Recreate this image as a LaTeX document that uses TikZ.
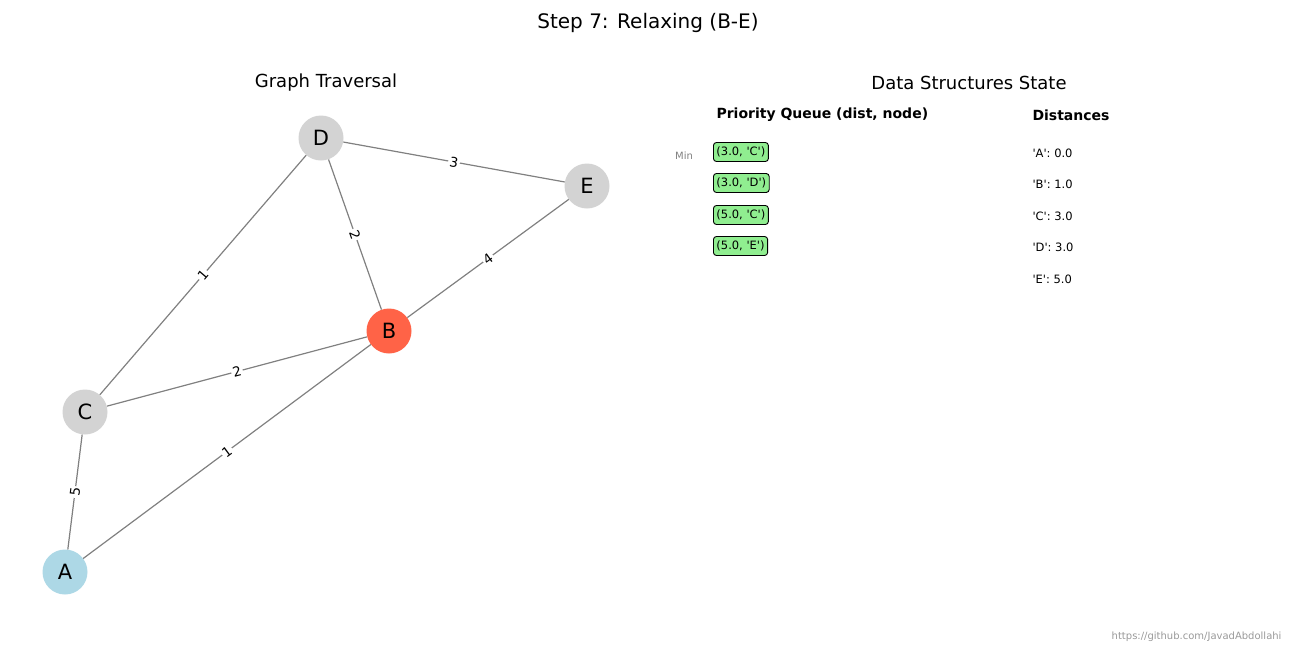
\documentclass[tikz,border=0pt]{standalone}
\usepackage{fontspec}
\setmainfont{DejaVu Sans}
\usetikzlibrary{positioning}

\definecolor{nodegray}{HTML}{D3D3D3}
\definecolor{tomato}{HTML}{FF6347}
\definecolor{lightblue}{HTML}{ADD8E6}
\definecolor{lightgreen}{HTML}{90EE90}
\newcommand{\sq}{\textquotesingle}

\tikzset{
  vertex/.style={circle, minimum size=45pt, inner sep=0pt, font=\fontsize{21}{24}\selectfont},
  edge/.style={draw=gray, line width=1.2pt},
  weight/.style={fill=white, inner sep=1.5pt, sloped, font=\fontsize{13.5}{15}\selectfont},
  pqbox/.style={draw, fill=lightgreen, rounded corners=3pt, anchor=west, inner xsep=3pt, inner ysep=2pt, minimum height=19pt, line width=0.9pt, font=\fontsize{11.5}{13}\selectfont},
  dist/.style={anchor=west, font=\fontsize{11.5}{13}\selectfont},
  head/.style={anchor=west, font=\fontsize{14}{16}\selectfont\bfseries}
}

\begin{document}
\begin{tikzpicture}[x=1pt, y=-1pt]
\useasboundingbox (0,0) rectangle (1296,648);

% Titles
\node (title) at (648,23) {\fontsize{20}{24}\selectfont Step 7: Relaxing (B-E)};
\node (gtitle) at (326,83) {\fontsize{18}{21}\selectfont Graph Traversal};
\node (dtitle) at (969,83) {\fontsize{18}{21}\selectfont Data Structures State};

% Graph nodes
\node[vertex, fill=nodegray] (D) at (321,138) {D};
\node[vertex, fill=nodegray] (E) at (587,186) {E};
\node[vertex, fill=tomato] (B) at (389,331) {B};
\node[vertex, fill=nodegray] (C) at (85,412) {C};
\node[vertex, fill=lightblue] (A) at (65,572) {A};

% Edges with weights
\draw[edge] (D) -- node[weight] {3} (E);
\draw[edge] (D) -- node[weight] {2} (B);
\draw[edge] (D) -- node[weight] {1} (C);
\draw[edge] (E) -- node[weight] {4} (B);
\draw[edge] (B) -- node[weight] {2} (C);
\draw[edge] (B) -- node[weight] {1} (A);
\draw[edge] (C) -- node[weight] {5} (A);

% Priority queue
\node[head] (pqhead) at (713,115) {Priority Queue (dist, node)};
\node[text=gray, font=\fontsize{10}{12}\selectfont] (min) at (684,156) {Min};
\node[pqbox] (pq1) at (713,152) {(3.0, \sq C\sq)};
\node[pqbox] (pq2) at (713,183) {(3.0, \sq D\sq)};
\node[pqbox] (pq3) at (713,215) {(5.0, \sq C\sq)};
\node[pqbox] (pq4) at (713,246) {(5.0, \sq E\sq)};

% Distances
\node[head] (dhead) at (1029,115) {Distances};
\node[dist] (dA) at (1029,153) {\sq A\sq: 0.0};
\node[dist] (dB) at (1029,184) {\sq B\sq: 1.0};
\node[dist] (dC) at (1029,216) {\sq C\sq: 3.0};
\node[dist] (dD) at (1029,247) {\sq D\sq: 3.0};
\node[dist] (dE) at (1029,279) {\sq E\sq: 5.0};

% Credit
\node[anchor=east, text=gray!80, font=\fontsize{10}{12}\selectfont] (url) at (1285,637) {https://github.com/JavadAbdollahi};
\end{tikzpicture}
\end{document}
